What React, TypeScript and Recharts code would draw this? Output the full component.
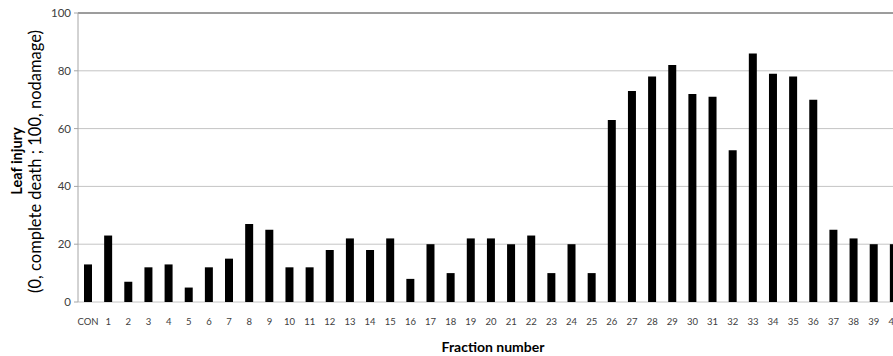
import React from "react";
import {
  BarChart,
  Bar,
  XAxis,
  YAxis,
  CartesianGrid,
  ReferenceLine,
} from "recharts";

// Fraction labels along the x axis
const fractions = [
  "CON", "1", "2", "3", "4", "5", "6", "7", "8", "9", "10",
  "11", "12", "13", "14", "15", "16", "17", "18", "19", "20",
  "21", "22", "23", "24", "25", "26", "27", "28", "29", "30",
  "31", "32", "33", "34", "35", "36", "37", "38", "39", "40",
];

// Leaf injury score per fraction (0 = complete death, 100 = no damage)
const injury = [
  13, 23, 7, 12, 13, 5, 12, 15, 27, 25, 12,
  12, 18, 22, 18, 22, 8, 20, 10, 22, 22,
  20, 23, 10, 20, 10, 63, 73, 78, 82, 72,
  71, 52.5, 86, 79, 78, 70, 25, 22, 20, 20,
];

const yTicks = [0, 20, 40, 60, 80, 100];

// category boundaries, used for the tick marks between bars
const edgeTicks = fractions.map((_, i) => i).concat(fractions.length);

const chartData = fractions.map((name, i) => ({ name, value: injury[i] }));

const FONT = "Lato, 'Liberation Sans', sans-serif";

const YTitle = () => (
  <g fontFamily={FONT} fill="#000">
    <text
      x={16}
      y={161}
      transform="rotate(-90 16 161)"
      textAnchor="middle"
      dominantBaseline="central"
      fontSize={14.5}
      fontWeight="bold"
    >
      {"Leaf  injury"}
    </text>
    <text
      x={35}
      y={161.5}
      transform="rotate(-90 35 161.5)"
      textAnchor="middle"
      dominantBaseline="central"
      fontSize={16.5}
    >
      (0, complete death ; 100, nodamage)
    </text>
  </g>
);

const XTitle = () => (
  <text
    x={493}
    y={352}
    textAnchor="middle"
    fontFamily={FONT}
    fontSize={14}
    fontWeight="bold"
    fill="#000"
  >
    Fraction number
  </text>
);

export default function App() {
  return (
    <div
      style={{
        position: "absolute",
        left: 0,
        top: 0,
        width: 893,
        height: 356,
        overflow: "hidden",
        background: "#fff",
      }}
    >
      <BarChart
        width={905}
        height={356}
        data={chartData}
        margin={{ top: 13, right: 1, bottom: 0, left: 0 }}
        barSize={8}
      >
        <CartesianGrid vertical={false} stroke="#c4c4c4" />
        {/* tick marks sitting between categories */}
        <XAxis
          xAxisId="edges"
          type="number"
          domain={[0, fractions.length]}
          ticks={edgeTicks}
          tick={false}
          tickSize={4}
          tickLine={{ stroke: "#8c8c8c" }}
          axisLine={{ stroke: "#8c8c8c" }}
          height={0}
          allowDataOverflow
        />
        <XAxis
          dataKey="name"
          interval={0}
          tickLine={false}
          axisLine={false}
          tickSize={4}
          tickMargin={12}
          height={54}
          tick={{ fontSize: 9.5, fill: "#404040", fontFamily: FONT }}
          label={{ content: () => <XTitle /> }}
        />
        <YAxis
          domain={[0, 100]}
          ticks={yTicks}
          width={78}
          tickSize={4}
          tickMargin={3}
          tickLine={{ stroke: "#a6a6a6" }}
          axisLine={{ stroke: "#a6a6a6" }}
          tick={{ fontSize: 11.5, fill: "#404040", fontFamily: FONT }}
          label={{ content: () => <YTitle /> }}
        />
        <ReferenceLine y={100} stroke="#595959" />
        <Bar dataKey="value" fill="#000" isAnimationActive={false} />
      </BarChart>
    </div>
  );
}
